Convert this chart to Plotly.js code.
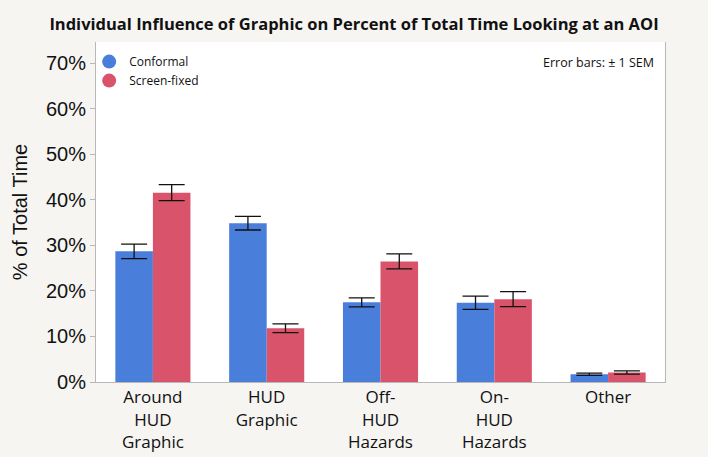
<!DOCTYPE html>
<html>
<head>
<meta charset="utf-8">
<script src="https://cdn.plot.ly/plotly-3.0.1.min.js"></script>
<style>
  html, body { margin: 0; padding: 0; background: #f6f5f2; }
  #graph { width: 708px; height: 457px; }
</style>
</head>
<body>
<div id="graph"></div>
<script>
var categories = ["Around<br>HUD<br>Graphic", "HUD<br>Graphic", "Off-<br>HUD<br>Hazards", "On-<br>HUD<br>Hazards", "Other"];
var conformal = [28.7, 34.9, 17.5, 17.4, 1.7];
var conformalSem = [1.6, 1.5, 1.0, 1.45, 0.25];
var screenFixed = [41.6, 11.8, 26.5, 18.2, 2.1];
var screenFixedSem = [1.75, 0.95, 1.65, 1.65, 0.35];

var blue = "#4a7edb";
var red = "#d9546a";
var graph = document.getElementById("graph");

function barTrace(name, values, sem, color) {
    return {
        type: "bar",
        name: name,
        x: categories,
        y: values,
        marker: { color: color },
        showlegend: false,
        error_y: { type: "data", array: sem, visible: true, color: "#111", thickness: 1.3, width: 13 }
    };
}

// dummy traces only for the round legend markers
function legendDot(name, color) {
    return {
        type: "scatter",
        mode: "markers",
        name: name,
        x: [null],
        y: [null],
        marker: { color: color, size: 14, symbol: "circle" },
        showlegend: true
    };
}

Plotly.newPlot(graph, [
    barTrace("Conformal", conformal, conformalSem, blue),
    barTrace("Screen-fixed", screenFixed, screenFixedSem, red),
    legendDot("Conformal", blue),
    legendDot("Screen-fixed", red)
], {
    width: 708,
    height: 457,
    margin: { l: 96, r: 43, t: 42, b: 75 },
    paper_bgcolor: "#f6f5f2",
    plot_bgcolor: "#ffffff",
    barmode: "group",
    bargap: 0.34,
    bargroupgap: 0,
    title: {
        text: "<b>Individual Influence of Graphic on Percent of Total Time Looking at an AOI</b>",
        font: { family: "Open Sans", size: 16.5, color: "#111" },
        x: 0.5, xanchor: "center", y: 0.948, yanchor: "middle"
    },
    xaxis: {
        range: [-0.5, 4.5],
        showline: true, linecolor: "#b8b8b8", linewidth: 1,
        ticks: "", showgrid: false,
        tickfont: { family: "Open Sans", size: 17, color: "#111" }
    },
    yaxis: {
        range: [0, 74.7],
        dtick: 10,
        ticksuffix: "%",
        showline: true, linecolor: "#b8b8b8", linewidth: 1, mirror: true,
        ticks: "outside", ticklen: 5, tickcolor: "#b8b8b8",
        showgrid: false, zeroline: false,
        tickfont: { family: "Liberation Sans", size: 20, color: "#111" },
        title: { text: "% of Total Time", font: { family: "Liberation Sans", size: 20, color: "#111" }, standoff: 12 }
    },
    legend: {
        x: -0.012, y: 0.985, xanchor: "left", yanchor: "top",
        bgcolor: "rgba(0,0,0,0)",
        font: { family: "Open Sans", size: 12, color: "#111" },
        tracegroupgap: 0, itemwidth: 30
    },
    annotations: [{
        text: "Error bars: ± 1 SEM",
        xref: "paper", yref: "paper", x: 0.985, y: 0.94,
        xanchor: "right", yanchor: "middle", showarrow: false,
        font: { family: "Open Sans", size: 12.5, color: "#111" }
    }]
}, { displayModeBar: false });
</script>
</body>
</html>
